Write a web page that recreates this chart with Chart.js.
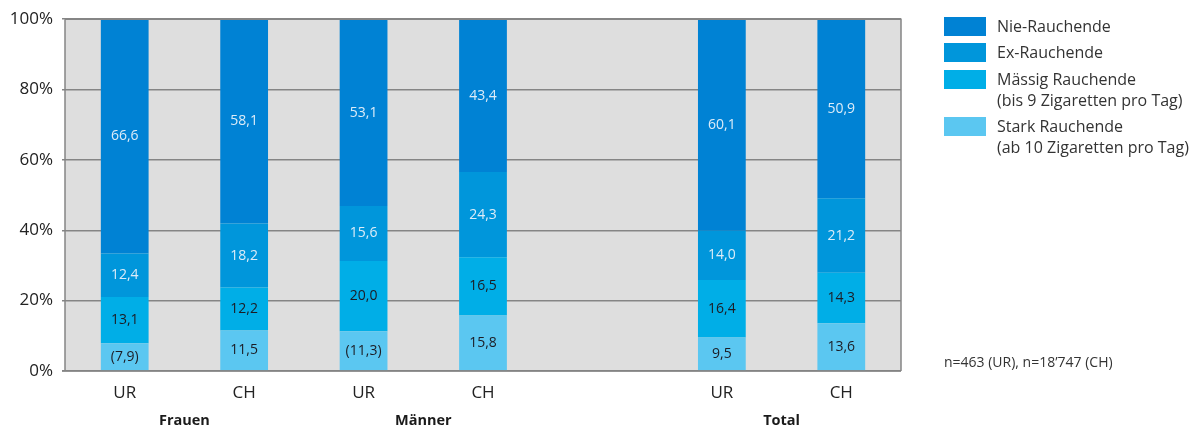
<!DOCTYPE html>
<html>
<head>
<meta charset="utf-8">
<script src="https://cdn.jsdelivr.net/npm/chart.js@4"></script>
<style>
html,body{margin:0;padding:0;background:#fff;}
#wrap{position:relative;width:1204px;height:427px;}
canvas{position:absolute;left:0;top:0;}
.leg{position:absolute;left:944px;font-family:"Open Sans",sans-serif;font-size:16px;color:#333;line-height:21px;}
.leg .box{position:absolute;left:0;width:42px;height:19px;}
.leg .txt{position:absolute;left:53px;white-space:nowrap;}
#note{position:absolute;left:944px;top:352px;font-family:"Open Sans",sans-serif;font-size:14px;color:#333;white-space:nowrap;}
</style>
</head>
<body>
<div id="wrap">
<canvas id="c" width="1204" height="427"></canvas>
<div id="legend"></div>
<div id="note">n=463 (UR), n=18’747 (CH)</div>
</div>
<script>
const categories = ["UR", "CH", "UR", "CH", "", "UR", "CH"];
const groups = ["Frauen", "Männer", "Total"];
const groupSlots = [[0, 1], [2, 3], [5, 6]];
const seriesNames = ["Stark Rauchende", "Mässig Rauchende", "Ex-Rauchende", "Nie-Rauchende"];
const legendLabels = ["Nie-Rauchende", "Ex-Rauchende", "Mässig Rauchende\n(bis 9 Zigaretten pro Tag)", "Stark Rauchende\n(ab 10 Zigaretten pro Tag)"];
const stark = [7.9, 11.5, 11.3, 15.8, null, 9.5, 13.6];
const maessig = [13.1, 12.2, 20.0, 16.5, null, 16.4, 14.3];
const ex = [12.4, 18.2, 15.6, 24.3, null, 14.0, 21.2];
const nie = [66.6, 58.1, 53.1, 43.4, null, 60.1, 50.9];
const starkLabels = ["(7,9)", "11,5", "(11,3)", "15,8", "", "9,5", "13,6"];
const maessigLabels = ["13,1", "12,2", "20,0", "16,5", "", "16,4", "14,3"];
const exLabels = ["12,4", "18,2", "15,6", "24,3", "", "14,0", "21,2"];
const nieLabels = ["66,6", "58,1", "53,1", "43,4", "", "60,1", "50,9"];
const yTicks = [0, 20, 40, 60, 80, 100];

const colors = ["#5BC7F1", "#00AEE7", "#0096DB", "#0082D4"];
const labelColors = ["#1c1c24", "#1c1c24", "#dcecf8", "#dcecf8"];
const FONT = '"Open Sans", sans-serif';

// legend (HTML)
const legTops = [17, 43, 70, 117];
const legColors = [colors[3], colors[2], colors[1], colors[0]];
const legEl = document.getElementById('legend');
legendLabels.forEach((t, i) => {
  const d = document.createElement('div');
  d.className = 'leg';
  d.style.top = legTops[i] + 'px';
  d.innerHTML = '<div class="box" style="background:' + legColors[i] + '"></div><div class="txt" style="top:-1px">' + t.replace('\n', '<br>') + '</div>';
  legEl.appendChild(d);
});

const bgPlugin = {
  id: 'bg',
  beforeDraw(chart) {
    const a = chart.chartArea, ctx = chart.ctx;
    ctx.save();
    ctx.fillStyle = '#DEDEDE';
    ctx.fillRect(a.left, a.top, a.right - a.left, a.bottom - a.top);
    ctx.restore();
  },
  afterDatasetsDraw(chart) {
    const a = chart.chartArea, ctx = chart.ctx;
    ctx.save();
    ctx.strokeStyle = '#858585';
    ctx.lineWidth = 1.5;
    ctx.beginPath();
    ctx.moveTo(a.left, a.top); ctx.lineTo(a.right, a.top); ctx.lineTo(a.right, a.bottom);
    ctx.stroke();
    ctx.beginPath();
    ctx.moveTo(a.left - 3, a.bottom); ctx.lineTo(a.right, a.bottom);
    ctx.stroke();
    ctx.beginPath();
    ctx.moveTo(a.left, a.top); ctx.lineTo(a.left, a.bottom);
    ctx.stroke();
    // data labels
    ctx.font = '14px ' + FONT;
    ctx.textAlign = 'center';
    ctx.textBaseline = 'middle';
    chart.data.datasets.forEach((ds, di) => {
      const meta = chart.getDatasetMeta(di);
      meta.data.forEach((el, i) => {
        const t = ds.valueLabels[i];
        if (!t || ds.data[i] == null) return;
        ctx.fillStyle = labelColors[di];
        ctx.fillText(t, el.x, (el.y + el.base) / 2);
      });
    });
    // group labels
    const xs = chart.scales.x;
    ctx.font = 'bold 14.5px ' + FONT;
    ctx.fillStyle = '#1a1a1a';
    groups.forEach((g, gi) => {
      const [s0, s1] = groupSlots[gi];
      const cx = (xs.getPixelForValue(s0) + xs.getPixelForValue(s1)) / 2;
      ctx.fillText(g, cx, 421);
    });
    ctx.restore();
  }
};

const valueSets = [stark, maessig, ex, nie];
const labelSets = [starkLabels, maessigLabels, exLabels, nieLabels];

new Chart(document.getElementById('c'), {
  type: 'bar',
  data: {
    labels: categories,
    datasets: seriesNames.map((n, i) => ({
      label: n,
      data: valueSets[i],
      valueLabels: labelSets[i],
      backgroundColor: colors[i],
      borderWidth: 0,
      barPercentage: 0.4,
      categoryPercentage: 1.0
    }))
  },
  options: {
    responsive: false,
    animation: false,
    events: [],
    layout: { padding: { top: 18, right: 303, left: 0, bottom: 0 } },
    plugins: { legend: { display: false }, tooltip: { enabled: false } },
    scales: {
      x: {
        stacked: true,
        grid: { display: false },
        border: { display: false },
        ticks: { color: '#222', font: { family: FONT, size: 17 }, padding: 4, maxRotation: 0, autoSkip: false },
        afterFit(s) { s.height = 56; }
      },
      y: {
        stacked: true,
        min: 0, max: 100,
        afterBuildTicks(s) { s.ticks = yTicks.map(v => ({ value: v })); },
        grid: { color: '#858585', lineWidth: 1.5, drawTicks: true, tickLength: 3 },
        border: { display: false },
        ticks: { color: '#222', font: { family: FONT, size: 17 }, padding: 9, callback: v => v + '%' },
        afterFit(s) { s.width = 65; }
      }
    }
  },
  plugins: [bgPlugin]
});
</script>
</body>
</html>
